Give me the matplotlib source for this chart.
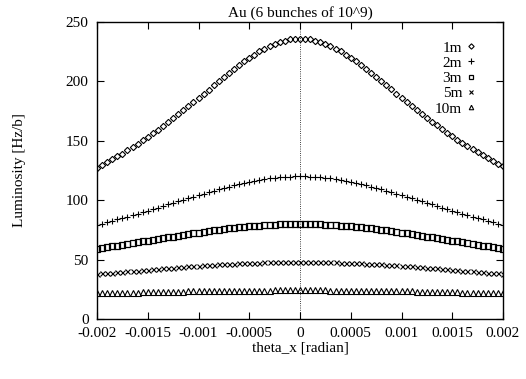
import numpy as np
import matplotlib.pyplot as plt

plt.rcParams['font.family'] = ['Liberation Serif', 'DejaVu Serif']

# crossing angle grid: 81 points from -2 mrad to +2 mrad
theta = np.linspace(-0.002, 0.002, 81)

# luminosity, one half of each curve from theta = 0 out to |theta| = 0.002
half_1m = [236.0, 235.8, 235.3, 234.4, 233.2, 231.6, 229.8, 227.6, 225.3, 222.6,
           219.8, 216.8, 213.7, 210.4, 207.1, 203.6, 200.1, 196.6, 193.1, 189.5,
           186.0, 182.5, 179.0, 175.6, 172.2, 168.8, 165.6, 162.4, 159.2, 156.2,
           153.2, 150.3, 147.4, 144.7, 142.0, 139.3, 136.8, 134.3, 131.9, 129.5, 127.2]
half_1m_right = [236.0, 235.8, 235.3, 234.4, 233.2, 231.6, 229.8, 227.6, 225.3, 222.6,
                 219.8, 216.8, 213.7, 210.5, 207.2, 203.7, 200.3, 196.8, 193.3, 189.8,
                 186.3, 182.8, 179.4, 176.0, 172.6, 169.3, 166.1, 162.9, 159.8, 156.8,
                 153.8, 151.0, 148.1, 145.4, 142.8, 140.2, 137.7, 135.3, 132.9, 130.7, 128.7]
half_2m = [120.0, 120.0, 119.8, 119.6, 119.2, 118.8, 118.3, 117.7, 117.0, 116.2,
           115.4, 114.5, 113.6, 112.5, 111.5, 110.4, 109.2, 108.0, 106.8, 105.6,
           104.3, 103.0, 101.7, 100.4, 99.1, 97.8, 96.5, 95.2, 93.8, 92.5,
           91.3, 90.0, 88.7, 87.5, 86.2, 85.0, 83.8, 82.6, 81.5, 80.3, 79.2]
half_3m = [80.0, 80.0, 79.9, 79.8, 79.7, 79.5, 79.3, 79.0, 78.7, 78.4,
           78.0, 77.6, 77.1, 76.7, 76.2, 75.7, 75.1, 74.6, 74.0, 73.4,
           72.7, 72.1, 71.5, 70.8, 70.1, 69.4, 68.8, 68.1, 67.4, 66.7,
           66.0, 65.3, 64.5, 63.8, 63.1, 62.4, 61.7, 61.1, 60.4, 59.7, 59.0]
half_5m = [48.0, 48.0, 48.0, 47.9, 47.9, 47.8, 47.7, 47.6, 47.4, 47.3,
           47.1, 47.0, 46.8, 46.6, 46.3, 46.1, 45.9, 45.6, 45.3, 45.1,
           44.8, 44.5, 44.2, 43.9, 43.6, 43.2, 42.9, 42.6, 42.2, 41.9,
           41.5, 41.2, 40.8, 40.5, 40.1, 39.8, 39.4, 39.1, 38.7, 38.4, 38.0]
half_10m = [24.0, 24.0, 24.0, 24.0, 24.0, 24.0, 23.9, 23.9, 23.9, 23.9,
            23.8, 23.8, 23.7, 23.7, 23.6, 23.6, 23.5, 23.5, 23.4, 23.4,
            23.3, 23.2, 23.2, 23.1, 23.0, 22.9, 22.8, 22.8, 22.7, 22.6,
            22.5, 22.4, 22.3, 22.2, 22.1, 22.0, 21.9, 21.8, 21.7, 21.6, 21.5]

lum_1m = half_1m[::-1] + half_1m_right[1:]
lum_2m = half_2m[::-1] + half_2m[1:]
lum_3m = half_3m[::-1] + half_3m[1:]
lum_5m = half_5m[::-1] + half_5m[1:]
lum_10m = half_10m[::-1] + half_10m[1:]

labels = ["1m", "2m", "3m", "5m", "10m"]
xticks = [-0.002, -0.0015, -0.001, -0.0005, 0, 0.0005, 0.001, 0.0015, 0.002]
xticklabels = ["-0.002", "-0.0015", "-0.001", "-0.0005", "0",
               "0.0005", "0.001", "0.0015", "0.002"]
yticks = [0, 50, 100, 150, 200, 250]

fig = plt.figure(figsize=(5.26, 3.79), dpi=100)
ax = fig.add_axes([97 / 526, 1 - 319 / 379, 406 / 526, 297 / 379])

styles = [dict(marker='D', ms=3.2, mfc='none', mew=0.8),
          dict(marker='+', ms=5.0, mew=0.8),
          dict(marker='s', ms=4.2, mfc='none', mew=0.9),
          dict(marker='x', ms=3.6, mew=0.8),
          dict(marker='^', ms=3.8, mfc='none', mew=0.8)]

for y, lab, st in zip([lum_1m, lum_2m, lum_3m, lum_5m, lum_10m], labels, styles):
    ax.plot(theta, y, ls='none', color='black', mec='black', label=lab, **st)

ax.axvline(0, color='black', ls=':', lw=0.6)

ax.set_xlim(-0.002, 0.002)
ax.set_ylim(0, 250)
ax.set_xticks(xticks)
ax.set_xticklabels(xticklabels)
ax.set_yticks(yticks)
ax.tick_params(direction='in', top=True, right=True, length=5, width=0.8,
               labelsize=11, pad=6)
for s in ax.spines.values():
    s.set_linewidth(1.0)

ax.set_title("Au (6 bunches of 10^9)", fontsize=11, pad=4)
ax.set_xlabel("theta_x [radian]", fontsize=11, labelpad=1)
ax.set_ylabel("Luminosity [Hz/b]", fontsize=11, labelpad=29)

leg = ax.legend(loc='upper right', bbox_to_anchor=(0.952, 0.962), frameon=False,
                markerfirst=False, handlelength=0.6, handletextpad=0.3,
                labelspacing=0.1, fontsize=11, borderpad=0, markerscale=0.85)

fig.savefig("out.png", dpi=100)
